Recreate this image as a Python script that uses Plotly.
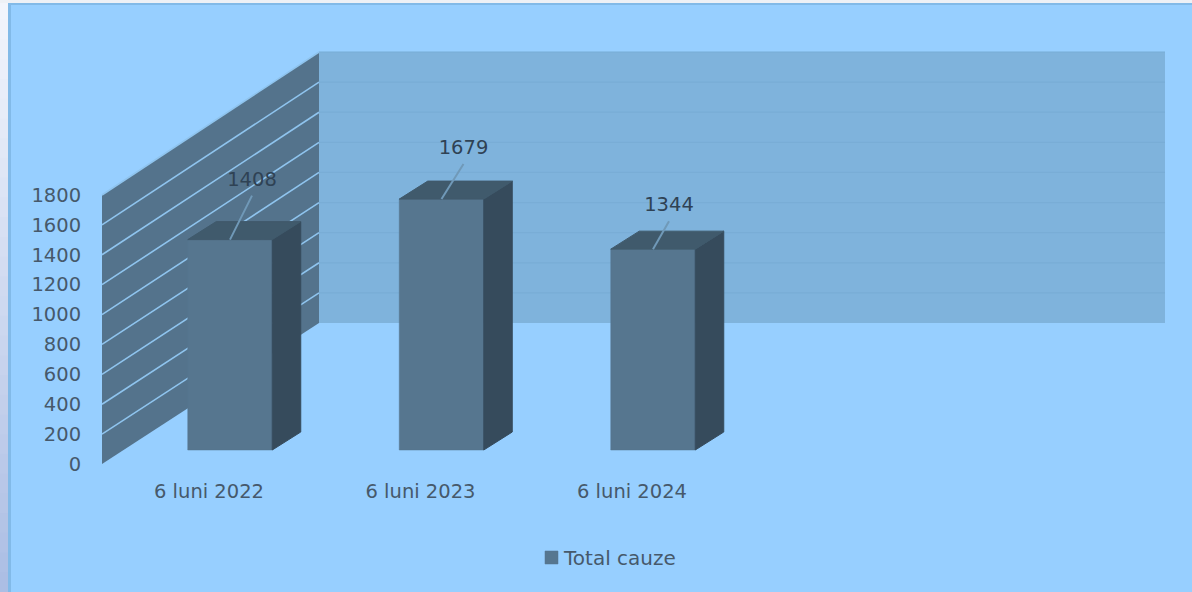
import plotly.graph_objects as go

# ---- data ----
categories = ["6 luni 2022", "6 luni 2023", "6 luni 2024"]
total_cauze = [1408, 1679, 1344]
series_name = "Total cauze"
y_ticks = [0, 200, 400, 600, 800, 1000, 1200, 1400, 1600, 1800]

# ---- canvas & scale ----
W, H = 1192, 592
CAT_PX = 211.5          # pixels per category
VAL_PX = 269 / 1800     # pixels per value unit
ORIGIN_X, ORIGIN_Y = 209, 464   # pixel of first category / value 0
AXIS_X = 102            # pixel of the value axis


def dx(px):
    return px / CAT_PX


def dy(px):
    return px / VAL_PX


xs = list(range(len(categories)))
wall_x0 = dx(AXIS_X - ORIGIN_X)
wall_dx = dx(217)
back_x1 = dx(1165 - ORIGIN_X)
bar_shift, bar_w = dx(21), dx(84.5)
bar_base = dy(14)
depth_x, depth_y = dx(28.5), dy(18)
top_v = y_ticks[-1]


def back_v(v):
    """Value-axis position of a value on the back wall (slightly stretched)."""
    return v + dy(141 + 2 * v / top_v)


FRONT, SIDE, TOP = "#56768F", "#364B5C", "#405A6C"
WALL, BACK = "#54738C", "#7FB3DC"
TXT_AXIS, TXT_LABEL = "#46596B", "#2F4254"
PANEL = "#97CFFF"
FONT = "DejaVu Sans"

shapes = []
# window frame: gradient strip on the left, pale strip on the top
N = 30
for i in range(N):
    t = i / (N - 1)
    r = round(242 + (172 - 242) * t)
    g = round(245 + (190 - 245) * t)
    b = round(252 + (228 - 252) * t)
    # each band runs to the bottom so no seams show between bands
    shapes.append(dict(type="rect", xref="paper", yref="paper", layer="below",
                       x0=0, x1=8 / W, y0=1 - i / N, y1=0,
                       fillcolor=f"rgb({r},{g},{b})", line_width=0))
shapes.append(dict(type="rect", xref="paper", yref="paper", layer="below",
                   x0=0, x1=1, y0=1 - 3 / H, y1=1, fillcolor="#EEF1F6", line_width=0))
shapes.append(dict(type="rect", xref="paper", yref="paper", layer="below",
                   x0=8 / W, x1=1, y0=1 - 5 / H, y1=1 - 3 / H, fillcolor="#82BAE8", line_width=0))
shapes.append(dict(type="rect", xref="paper", yref="paper", layer="below",
                   x0=8 / W, x1=11 / W, y0=0, y1=1 - 3 / H, fillcolor="#82BAE8", line_width=0))

# walls
shapes.append(dict(type="path", layer="below", xref="x", yref="y", line_width=0, fillcolor=WALL,
                   path=f"M{wall_x0},0 L{wall_x0},{top_v} L{wall_x0 + wall_dx},{back_v(top_v)} "
                        f"L{wall_x0 + wall_dx},{back_v(0)} Z"))
shapes.append(dict(type="rect", layer="below", xref="x", yref="y", line_width=0, fillcolor=BACK,
                   x0=wall_x0 + wall_dx, x1=back_x1, y0=back_v(0), y1=back_v(top_v)))
for v in y_ticks[1:]:
    shapes.append(dict(type="line", layer="below", xref="x", yref="y",
                       x0=wall_x0, y0=v, x1=wall_x0 + wall_dx, y1=back_v(v),
                       line=dict(color="#8FC4EE", width=1.6)))
    shapes.append(dict(type="line", layer="below", xref="x", yref="y",
                       x0=wall_x0 + wall_dx, y0=back_v(v), x1=back_x1, y1=back_v(v),
                       line=dict(color="#79ADD6", width=1.2)))

fig = go.Figure()

# front faces
fig.add_trace(go.Bar(x=[x + bar_shift for x in xs], y=total_cauze, base=bar_base, width=bar_w,
                     name=series_name, marker=dict(color=FRONT, line=dict(color=FRONT, width=0.5)),
                     showlegend=True, hoverinfo="skip"))

# side and top faces, leader lines and value labels
label_rise = [58, 50, 43]
label_run = [22, 22, 16]
leader_rise = [44, 35, 28]
for x, v, rise, run, lrise in zip(xs, total_cauze, label_rise, label_run, leader_rise):
    l = x + bar_shift - bar_w / 2
    r = x + bar_shift + bar_w / 2
    t = v + bar_base
    fig.add_trace(go.Scatter(x=[r, r + depth_x, r + depth_x, r, r],
                             y=[bar_base, bar_base + depth_y, t + depth_y, t, bar_base],
                             mode="lines", fill="toself", fillcolor=SIDE,
                             line=dict(width=1, color=SIDE),
                             showlegend=False, hoverinfo="skip"))
    fig.add_trace(go.Scatter(x=[l, r, r + depth_x, l + depth_x, l],
                             y=[t, t, t + depth_y, t + depth_y, t],
                             mode="lines", fill="toself", fillcolor=TOP,
                             line=dict(width=1, color=TOP),
                             showlegend=False, hoverinfo="skip"))
    mid = x + bar_shift
    fig.add_trace(go.Scatter(x=[mid, mid + dx(run)], y=[t, t + dy(lrise)],
                             mode="lines", line=dict(color="#7099B8", width=2),
                             showlegend=False, hoverinfo="skip"))
    fig.add_trace(go.Scatter(x=[mid + dx(run)], y=[t + dy(rise)], mode="text", text=[str(v)],
                             textposition="middle center",
                             textfont=dict(family=FONT, size=19.5, color=TXT_LABEL),
                             showlegend=False, hoverinfo="skip"))

fig.update_layout(
    width=W, height=H, margin=dict(l=0, r=0, t=0, b=0), autosize=False,
    paper_bgcolor=PANEL, plot_bgcolor="rgba(0,0,0,0)", shapes=shapes,
    font=dict(family=FONT, size=19.5, color=TXT_AXIS),
    showlegend=True,
    legend=dict(x=524 / W, y=1 - 557.5 / H, xanchor="left", yanchor="middle",
                bgcolor="rgba(0,0,0,0)", font=dict(family=FONT, size=20, color=TXT_AXIS)),
    xaxis=dict(domain=[0, 1], range=[dx(-ORIGIN_X), dx(W - ORIGIN_X)],
               tickvals=xs, ticktext=categories, showgrid=False, zeroline=False, showline=False,
               ticks="outside", ticklen=10, tickcolor="rgba(0,0,0,0)",
               anchor="free", position=(H - ORIGIN_Y) / H),
    yaxis=dict(domain=[0, 1], range=[dy(ORIGIN_Y - H), dy(ORIGIN_Y)],
               tickvals=y_ticks, showgrid=False, zeroline=False, showline=False,
               ticks="outside", ticklen=17, tickcolor="rgba(0,0,0,0)",
               anchor="free", position=AXIS_X / W),
)

post = ("document.body.style.margin='0';document.body.style.overflow='hidden';"
        "function fixSwatch(){document.querySelectorAll('.legend .legendpoints path').forEach("
        "p=>p.setAttribute('transform','translate(27.5,0) scale(1.08)'));}"
        "fixSwatch();setTimeout(fixSwatch,50);setTimeout(fixSwatch,300);")
fig.write_html("out.html", config={"displayModeBar": False}, post_script=post)
